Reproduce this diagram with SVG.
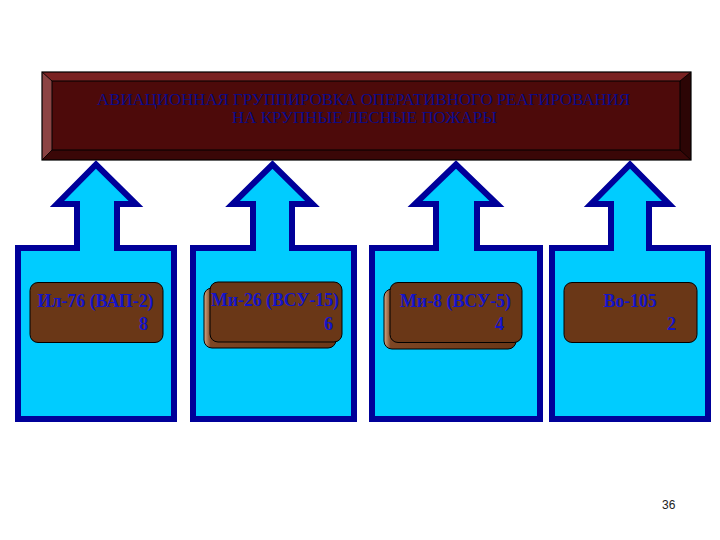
<svg xmlns="http://www.w3.org/2000/svg" width="720" height="540" viewBox="0 0 720 540">
<defs>
<style>
.blk{fill:#00ccff;stroke:#000099;stroke-width:6;stroke-linejoin:miter}
.card{fill:#6a3717;stroke:#000;stroke-width:1}
.back{fill:url(#edge);stroke:#000;stroke-width:1}
.lbl{font-family:"Liberation Serif","Times New Roman",serif;font-weight:bold;font-size:18px;fill:#1414c8}
.ttl{font-family:"Liberation Serif","Times New Roman",serif;font-size:16px;fill:#0a0a8a}
</style>
<linearGradient id="edge" x1="0" y1="0" x2="1" y2="0">
<stop offset="0" stop-color="#d4aa88"/>
<stop offset="0.05" stop-color="#7e4624"/>
<stop offset="1" stop-color="#6a3717"/>
</linearGradient>
</defs>
<rect width="720" height="540" fill="#fff"/>

<g id="title">
<rect x="42" y="72" width="649" height="88" fill="#4d0a0a"/>
<polygon points="42,72 691,72 680,81 52,81" fill="#7a2222"/>
<polygon points="42,72 52,81 52,150 42,160" fill="#8c4444"/>
<polygon points="691,72 691,160 680,150 680,81" fill="#2c0505"/>
<polygon points="42,160 52,150 680,150 691,160" fill="#3a0707"/>
<rect x="52" y="81" width="628" height="69" fill="none" stroke="#000" stroke-width="1"/>
<line x1="42" y1="72" x2="52" y2="81" stroke="#000" stroke-width="0.8"/>
<line x1="691" y1="72" x2="680" y2="81" stroke="#000" stroke-width="0.8"/>
<line x1="42" y1="160" x2="52" y2="150" stroke="#000" stroke-width="0.8"/>
<line x1="691" y1="160" x2="680" y2="150" stroke="#000" stroke-width="0.8"/>
<rect x="42" y="72" width="649" height="88" fill="none" stroke="#000" stroke-width="1.2"/>
<text class="ttl" x="97" y="105" textLength="533" lengthAdjust="spacingAndGlyphs">АВИАЦИОННАЯ ГРУППИРОВКА ОПЕРАТИВНОГО РЕАГИРОВАНИЯ</text>
<text class="ttl" x="232" y="123" textLength="265" lengthAdjust="spacingAndGlyphs">НА КРУПНЫЕ ЛЕСНЫЕ ПОЖАРЫ</text>
</g>

<g id="connectors"></g>

<g id="il76">
<path class="blk" d="M18,248 H77 V204 H57 L96,164.5 L136,204 H117 V248 H174 V419 H18 Z"/>
<rect class="card" x="30" y="282.5" width="133" height="60" rx="8"/>
<text class="lbl" x="37.5" y="307" textLength="116" lengthAdjust="spacingAndGlyphs">Ил-76 (ВАП-2)</text>
<text class="lbl" x="139" y="330">8</text>
</g>

<g id="mi26">
<path class="blk" d="M193,248 H253 V204 H232.5 L272.5,164.5 L312.5,204 H292 V248 H354 V419 H193 Z"/>
<rect class="back" x="204" y="288" width="132" height="60" rx="8"/>
<rect class="card" x="210" y="282" width="132" height="60" rx="8"/>
<text class="lbl" x="211" y="306" textLength="128" lengthAdjust="spacingAndGlyphs">Ми-26 (ВСУ-15)</text>
<text class="lbl" x="324" y="330">6</text>
</g>

<g id="mi8">
<path class="blk" d="M372,248 H436 V204 H415 L456,164.5 L497,204 H477 V248 H540 V419 H372 Z"/>
<rect class="back" x="384" y="289" width="132" height="60" rx="8"/>
<rect class="card" x="390" y="282.5" width="132" height="60" rx="8"/>
<text class="lbl" x="400" y="307" textLength="111" lengthAdjust="spacingAndGlyphs">Ми-8 (ВСУ-5)</text>
<text class="lbl" x="495" y="330">4</text>
</g>

<g id="bo105">
<path class="blk" d="M552,248 H611 V204 H591 L630,164.5 L669,204 H649 V248 H708 V419 H552 Z"/>
<rect class="card" x="564" y="282.5" width="133" height="60" rx="8"/>
<text class="lbl" x="603.5" y="307" textLength="53" lengthAdjust="spacingAndGlyphs">Во-105</text>
<text class="lbl" x="667" y="330">2</text>
</g>

<text id="page-number" x="662" y="509" font-family="'Liberation Sans',Arial,sans-serif" font-size="12" fill="#222">36</text>
</svg>
